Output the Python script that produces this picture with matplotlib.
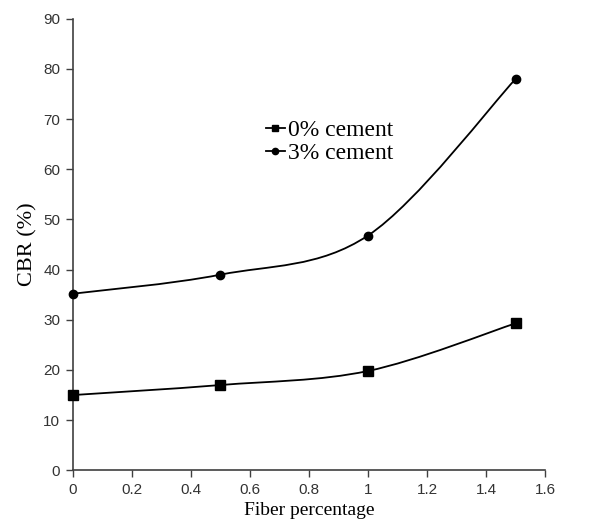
import numpy as np
import matplotlib.pyplot as plt
from matplotlib.path import Path
from matplotlib.patches import PathPatch
from matplotlib.lines import Line2D

# Data
fiber = [0, 0.5, 1.0, 1.5]
cbr_0 = [15.0, 17.0, 19.8, 29.3]
cbr_3 = [35.2, 39.0, 46.8, 78.0]
labels = ['0% cement', '3% cement']

SERIF = ['Liberation Serif', 'DejaVu Serif']
SANS = ['Liberation Sans', 'DejaVu Sans']


def smooth_path(xs, ys):
    """Bezier path through the points, spreadsheet-style smoothing"""
    pts = np.column_stack([xs, ys]).astype(float)
    verts = [pts[0]]
    codes = [Path.MOVETO]
    n = len(pts)
    for i in range(n - 1):
        p0 = pts[max(i - 1, 0)]
        p1 = pts[i]
        p2 = pts[i + 1]
        p3 = pts[min(i + 2, n - 1)]
        c1 = p1 + (p2 - p0) / 6
        c2 = p2 - (p3 - p1) / 6
        verts += [c1, c2, p2]
        codes += [Path.CURVE4] * 3
    return Path(verts, codes)


fig = plt.figure(figsize=(6.07, 5.22), dpi=100)
ax = fig.add_axes([0.120, 0.099, 0.778, 0.865])

for ys, marker, ms in [(cbr_0, 's', 6.5), (cbr_3, 'o', 6)]:
    ax.add_patch(PathPatch(smooth_path(fiber, ys), facecolor='none',
                           edgecolor='black', lw=1.3, zorder=2))
    ax.plot(fiber, ys, linestyle='none', marker=marker, ms=ms,
            color='black', zorder=3, clip_on=False)

ax.set_xlim(0, 1.6)
ax.set_ylim(0, 90)
ax.set_xticks(np.arange(0, 1.61, 0.2))
ax.set_xticklabels(['0', '0.2', '0.4', '0.6', '0.8', '1', '1.2', '1.4', '1.6'])
ax.set_yticks(np.arange(0, 91, 10))

for side in ['top', 'right']:
    ax.spines[side].set_visible(False)
for side in ['left', 'bottom']:
    ax.spines[side].set_color('#404040')
    ax.spines[side].set_linewidth(1.2)

ax.tick_params(direction='out', length=5, width=1, color='#404040',
               labelcolor='#333333', labelsize=11, pad=4)
for lab in ax.get_xticklabels() + ax.get_yticklabels():
    lab.set_family(SANS)

ax.set_xlabel('Fiber percentage', family=SERIF, fontsize=14, labelpad=4)
ax.set_ylabel('CBR (%)', family=SERIF, fontsize=16, labelpad=4)

handles = [
    Line2D([], [], color='black', lw=1.3, marker='s', ms=5),
    Line2D([], [], color='black', lw=1.3, marker='o', ms=4.5),
]
ax.legend(handles, labels, loc='upper left', bbox_to_anchor=(0.384, 0.803),
          frameon=False, handlelength=0.8, handletextpad=0.15,
          labelspacing=0.05, borderpad=0,
          prop={'family': SERIF, 'size': 17})

fig.savefig('out.png', dpi=100)
